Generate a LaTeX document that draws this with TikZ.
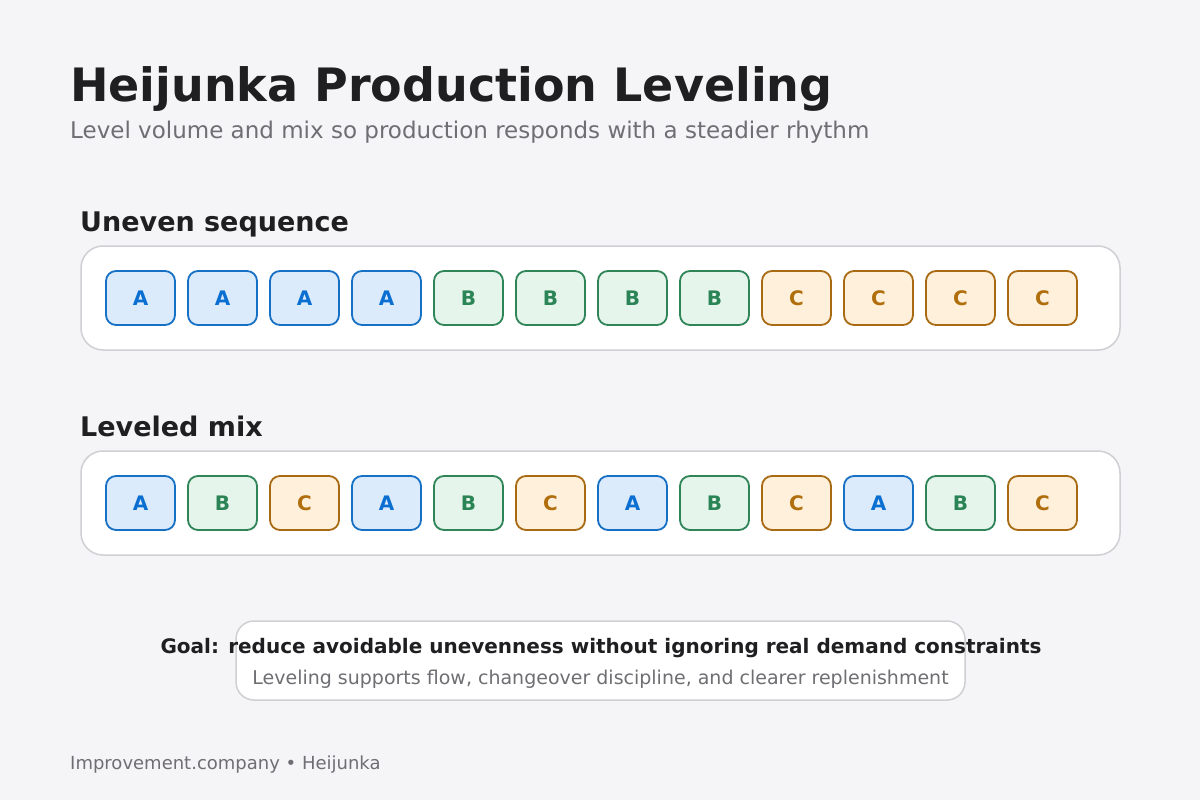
\documentclass[tikz,border=0pt]{standalone}
\usepackage{fontspec}
\setmainfont{DejaVu Sans}
\definecolor{bg}{HTML}{F5F5F7}
\definecolor{titlec}{HTML}{1F1F22}
\definecolor{subc}{HTML}{6E6E73}
\definecolor{panelline}{HTML}{CFCFD4}
\definecolor{Afill}{HTML}{DCEBFC}
\definecolor{Adraw}{HTML}{1670C4}
\definecolor{Atext}{HTML}{0A6FD1}
\definecolor{Bfill}{HTML}{E6F5EC}
\definecolor{Bdraw}{HTML}{2F8558}
\definecolor{Btext}{HTML}{2B8455}
\definecolor{Cfill}{HTML}{FFF0DB}
\definecolor{Cdraw}{HTML}{A86A12}
\definecolor{Ctext}{HTML}{B06E0C}
\tikzset{
  panel/.style={draw=panelline, line width=1.5pt, fill=white, rounded corners=22pt, minimum width=1039pt, minimum height=104pt, inner sep=0pt},
  tile/.style={line width=1.8pt, rounded corners=10pt, minimum width=69pt, minimum height=54pt, inner sep=0pt, font=\fontsize{20}{24}\selectfont\bfseries},
  tileA/.style={tile, fill=Afill, draw=Adraw, text=Atext},
  tileB/.style={tile, fill=Bfill, draw=Bdraw, text=Btext},
  tileC/.style={tile, fill=Cfill, draw=Cdraw, text=Ctext},
  goalbox/.style={draw=panelline, line width=1.5pt, fill=white, rounded corners=18pt, minimum width=729pt, minimum height=79pt, inner sep=0pt},
  txt/.style={anchor=base west, inner sep=0pt},
}
\begin{document}
\begin{tikzpicture}[x=1pt,y=-1pt]
\fill[bg] (0,0) rectangle (1200,800);
\useasboundingbox (0,0) rectangle (1200,800);
\node[txt, text=titlec, font=\fontsize{46}{52}\selectfont\bfseries] (title) at (70,102) {Heijunka Production Leveling};
\node[txt, text=subc, font=\fontsize{23}{27}\selectfont] (subtitle) at (70,138) {Level volume and mix so production responds with a steadier rhythm};
\node[txt, text=titlec, font=\fontsize{27}{31}\selectfont\bfseries] (h1) at (80,231) {Uneven sequence};
\node[txt, text=titlec, font=\fontsize{27}{31}\selectfont\bfseries] (h2) at (80,436) {Leveled mix};
\node[panel] (p1) at (600.5,298) {};
\node[panel] (p2) at (600.5,503) {};
\foreach \t [count=\i] in {A,A,A,A,B,B,B,B,C,C,C,C} {
  \pgfmathsetmacro{\xx}{140.5+82*(\i-1)}
  \node[tile\t] (u\i) at (\xx,298) {\t};
}
\foreach \t [count=\i] in {A,B,C,A,B,C,A,B,C,A,B,C} {
  \pgfmathsetmacro{\xx}{140.5+82*(\i-1)}
  \node[tile\t] (l\i) at (\xx,503) {\t};
}
\node[goalbox] (goal) at (600.5,660.5) {};
\node[anchor=base, inner sep=0pt, text=titlec, font=\fontsize{20}{24}\selectfont\bfseries] (goalt) at (601,653) {Goal: reduce avoidable unevenness without ignoring real demand constraints};
\node[anchor=base, inner sep=0pt, text=subc, font=\fontsize{19}{23}\selectfont] (goals) at (600.5,684) {Leveling supports flow, changeover discipline, and clearer replenishment};
\node[txt, text=subc, font=\fontsize{18}{21}\selectfont] (footer) at (70,769) {Improvement.company • Heijunka};
\end{tikzpicture}
\end{document}
